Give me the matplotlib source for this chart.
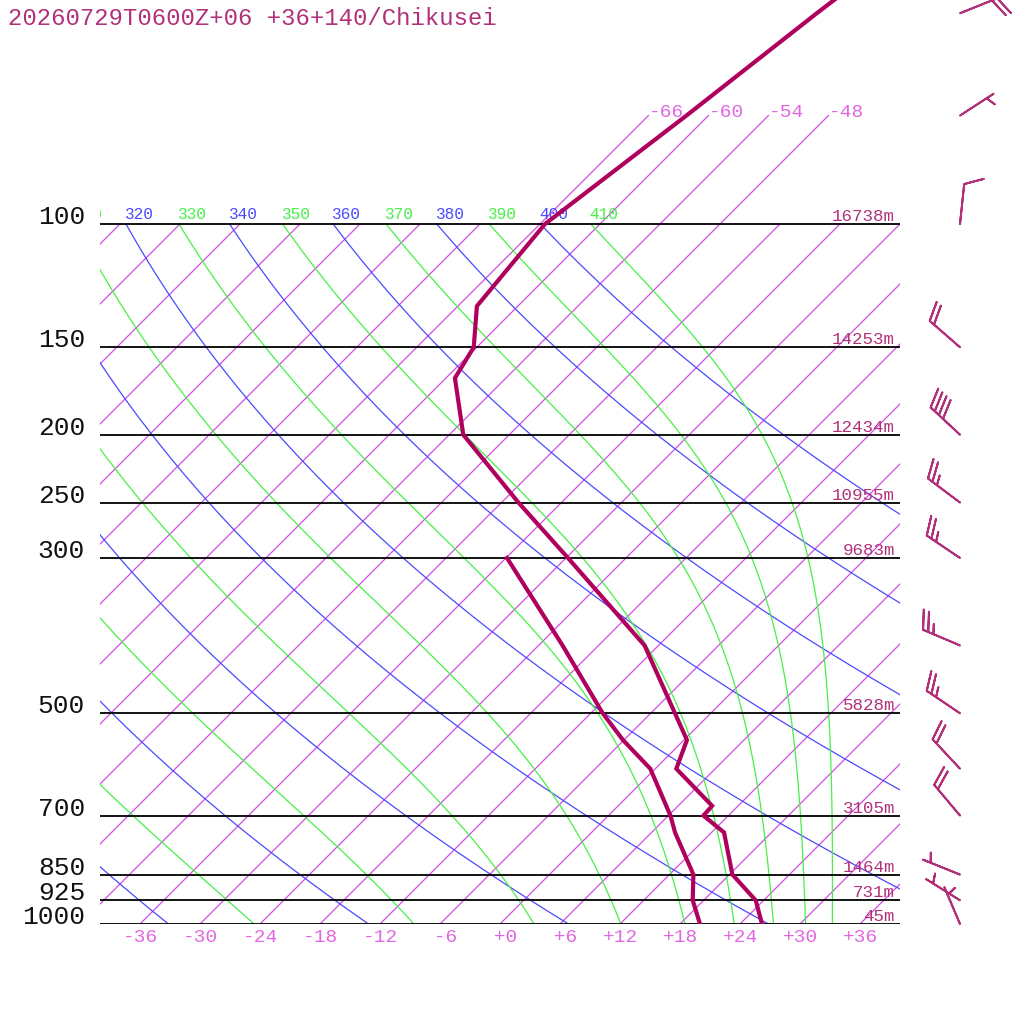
import numpy as np
import matplotlib
matplotlib.use("Agg")
import matplotlib.pyplot as plt
from matplotlib.transforms import Affine2D, blended_transform_factory

# ---------------- data ----------------
title = "20260729T0600Z+06 +36+140/Chikusei"

temp_p = [40, 50, 70, 100, 131, 150, 166, 200, 250, 300, 400, 546, 600, 678, 700, 740, 850, 925, 1000]
temp_t = [-57.3, -59.4, -62.2, -65.5, -64.1, -60.3, -59.1, -52.6, -40.3, -29.8, -13.4, 0.3, 2.1, 9.4, 9.5,
          13.25, 18.3, 23.2, 26.2]

dew_p = [300, 400, 500, 546, 600, 700, 740, 850, 925, 1000]
dew_t = [-35.9, -21.6, -10.8, -6.1, -0.5, 6.2, 8.35, 14.4, 16.9, 20.0]

wind_p = [50, 70, 100, 150, 200, 250, 300, 400, 500, 600, 700, 850, 925, 1000]
wind_dir = [68, 57, 6, 311, 313, 307, 304, 293, 304, 317, 320, 292, 302, 337]
wind_kt = [20, 5, 10, 20, 40, 25, 25, 25, 25, 20, 20, 5, 5, 5]

levels = [100, 150, 200, 250, 300, 500, 700, 850, 925, 1000]
heights = ["16738m", "14253m", "12434m", "10955m", "9683m", "5828m", "3105m", "1464m", "731m", "45m"]

isotherm_t = list(range(-108, 37, 6))
top_isotherms = [-66, -60, -54, -48]
dry_theta = list(range(220, 401, 20))
moist_theta = list(range(230, 411, 20))
temp_ticks = list(range(-36, 37, 6))

# ---------------- colours ----------------
C_ISO = "#d24ce4"
C_DRY = "#4a4aff"
C_MOIST = "#46f046"
C_PROF = "#b0005e"
C_TXT = "#b2307a"
C_TICK = "#e266e2"
MONO = "Liberation Mono"

# ---------------- figure ----------------
fig = plt.figure(figsize=(10.24, 10.24), dpi=100)
fig.patch.set_facecolor("white")
ax = fig.add_axes([100 / 1024, 100 / 1024, 800 / 1024, 924 / 1024])
ax.set_yscale("log")
ax.axis("off")
P_TOP = 1000 * 10 ** (-924 / 700)
X_LEFT, X_RIGHT = -40, 40

# skew: X = T + 70*log10(1000/p)
skew = Affine2D(np.array([[1.0, -70.0, 210.0], [0.0, 1.0, 0.0], [0.0, 0.0, 1.0]]))
trans = ax.transScale + skew + ax.transLimits + ax.transAxes
blend = blended_transform_factory(ax.transAxes, ax.transData)

# isotherms
for t in isotherm_t:
    ptop = 70 if t in top_isotherms else 100
    ax.plot([t, t], [1000, ptop], color=C_ISO, lw=0.9, transform=trans)
for t in top_isotherms:
    ax.annotate(f"{t:d}", xy=(t, 70), xycoords=trans, xytext=(0, -1), textcoords="offset pixels",
                ha="left", va="baseline", fontsize=14, family=MONO, color=C_TICK)


def theta_label(th, t100, color):
    # skip labels that would lie completely left of the diagram
    if t100 + 70 + 3.0 < X_LEFT:
        return
    ax.annotate(str(th), xy=(t100, 100), xycoords=trans, xytext=(-1, 5), textcoords="offset pixels",
                ha="left", va="baseline", fontsize=11.6, family=MONO, color=color,
                annotation_clip=False, clip_on=True)


# dry adiabats
p_arr = np.geomspace(1000, 100, 300)
for th in dry_theta:
    t_line = th * (p_arr / 1000.0) ** 0.2857 - 273.15
    ax.plot(t_line, p_arr, color=C_DRY, lw=0.9, transform=trans)
    theta_label(th, t_line[-1], C_DRY)


# saturated pseudo-adiabats (Bolton theta-e)
def theta_es(tc, p):
    tk = tc + 273.15
    es = 6.112 * np.exp(17.67 * tc / (tc + 243.5))
    r = 622.0 * es / (p - es)
    return tk * (1000.0 / p) ** (0.2854 * (1 - 0.00028 * r)) * np.exp((3.376 / tk - 0.00254) * r * (1 + 0.00081 * r))


def t_of_thetae(the, p):
    lo = np.full_like(p, -140.0)
    hi = np.full_like(p, 40.0)
    for _ in range(60):
        mid = 0.5 * (lo + hi)
        big = theta_es(mid, p) > the
        hi = np.where(big, mid, hi)
        lo = np.where(big, lo, mid)
    return 0.5 * (lo + hi)


for th in moist_theta:
    t_line = t_of_thetae(th, p_arr)
    ax.plot(t_line, p_arr, color=C_MOIST, lw=0.9, transform=trans)
    theta_label(th, t_line[-1], C_MOIST)

# isobars + labels
for p, h in zip(levels, heights):
    ax.axhline(p, color="black", lw=1.3)
    ax.annotate(str(p), xy=(0, p), xycoords=blend, xytext=(-15, 0), textcoords="offset pixels",
                ha="right", va="baseline", fontsize=18.9, family=MONO, color="#111111",
                annotation_clip=False)
    ax.annotate(h, xy=(1, p), xycoords=blend, xytext=(-5, 3), textcoords="offset pixels",
                ha="right", va="baseline", fontsize=12.6, family=MONO, color=C_TXT,
                annotation_clip=False)

# temperature ticks at bottom
for t in temp_ticks:
    ax.annotate(f"{t:+d}".rjust(3), xy=(t, 1000), xycoords=trans, xytext=(0, -18), textcoords="offset pixels",
                ha="center", va="baseline", fontsize=14, family=MONO, color=C_TICK,
                annotation_clip=False)

# profiles
ax.plot(temp_t, temp_p, color=C_PROF, lw=3.0, transform=trans, solid_joinstyle="miter", zorder=5)
ax.plot(dew_t, dew_p, color=C_PROF, lw=3.0, transform=trans, solid_joinstyle="miter", zorder=5)

# wind barbs
d = np.deg2rad(np.array(wind_dir, dtype=float))
s = np.array(wind_kt, dtype=float)
u = -s * np.sin(d)
v = -s * np.cos(d)
xb = np.full(len(wind_p), 860 / 800)
ax.barbs(xb, wind_p, u, v, transform=blend, clip_on=False, length=7.6, color=C_TXT,
         linewidth=1.4, zorder=6, sizes=dict(height=0.47, width=0.36, spacing=0.14))

ax.set_xlim(X_LEFT, X_RIGHT)
ax.set_ylim(1000, P_TOP)

fig.text(8 / 1024, 1 - 25 / 1024, title, ha="left", va="baseline", fontsize=17.2, family=MONO, color=C_TXT)

fig.savefig("out.png", dpi=100, facecolor="white")
